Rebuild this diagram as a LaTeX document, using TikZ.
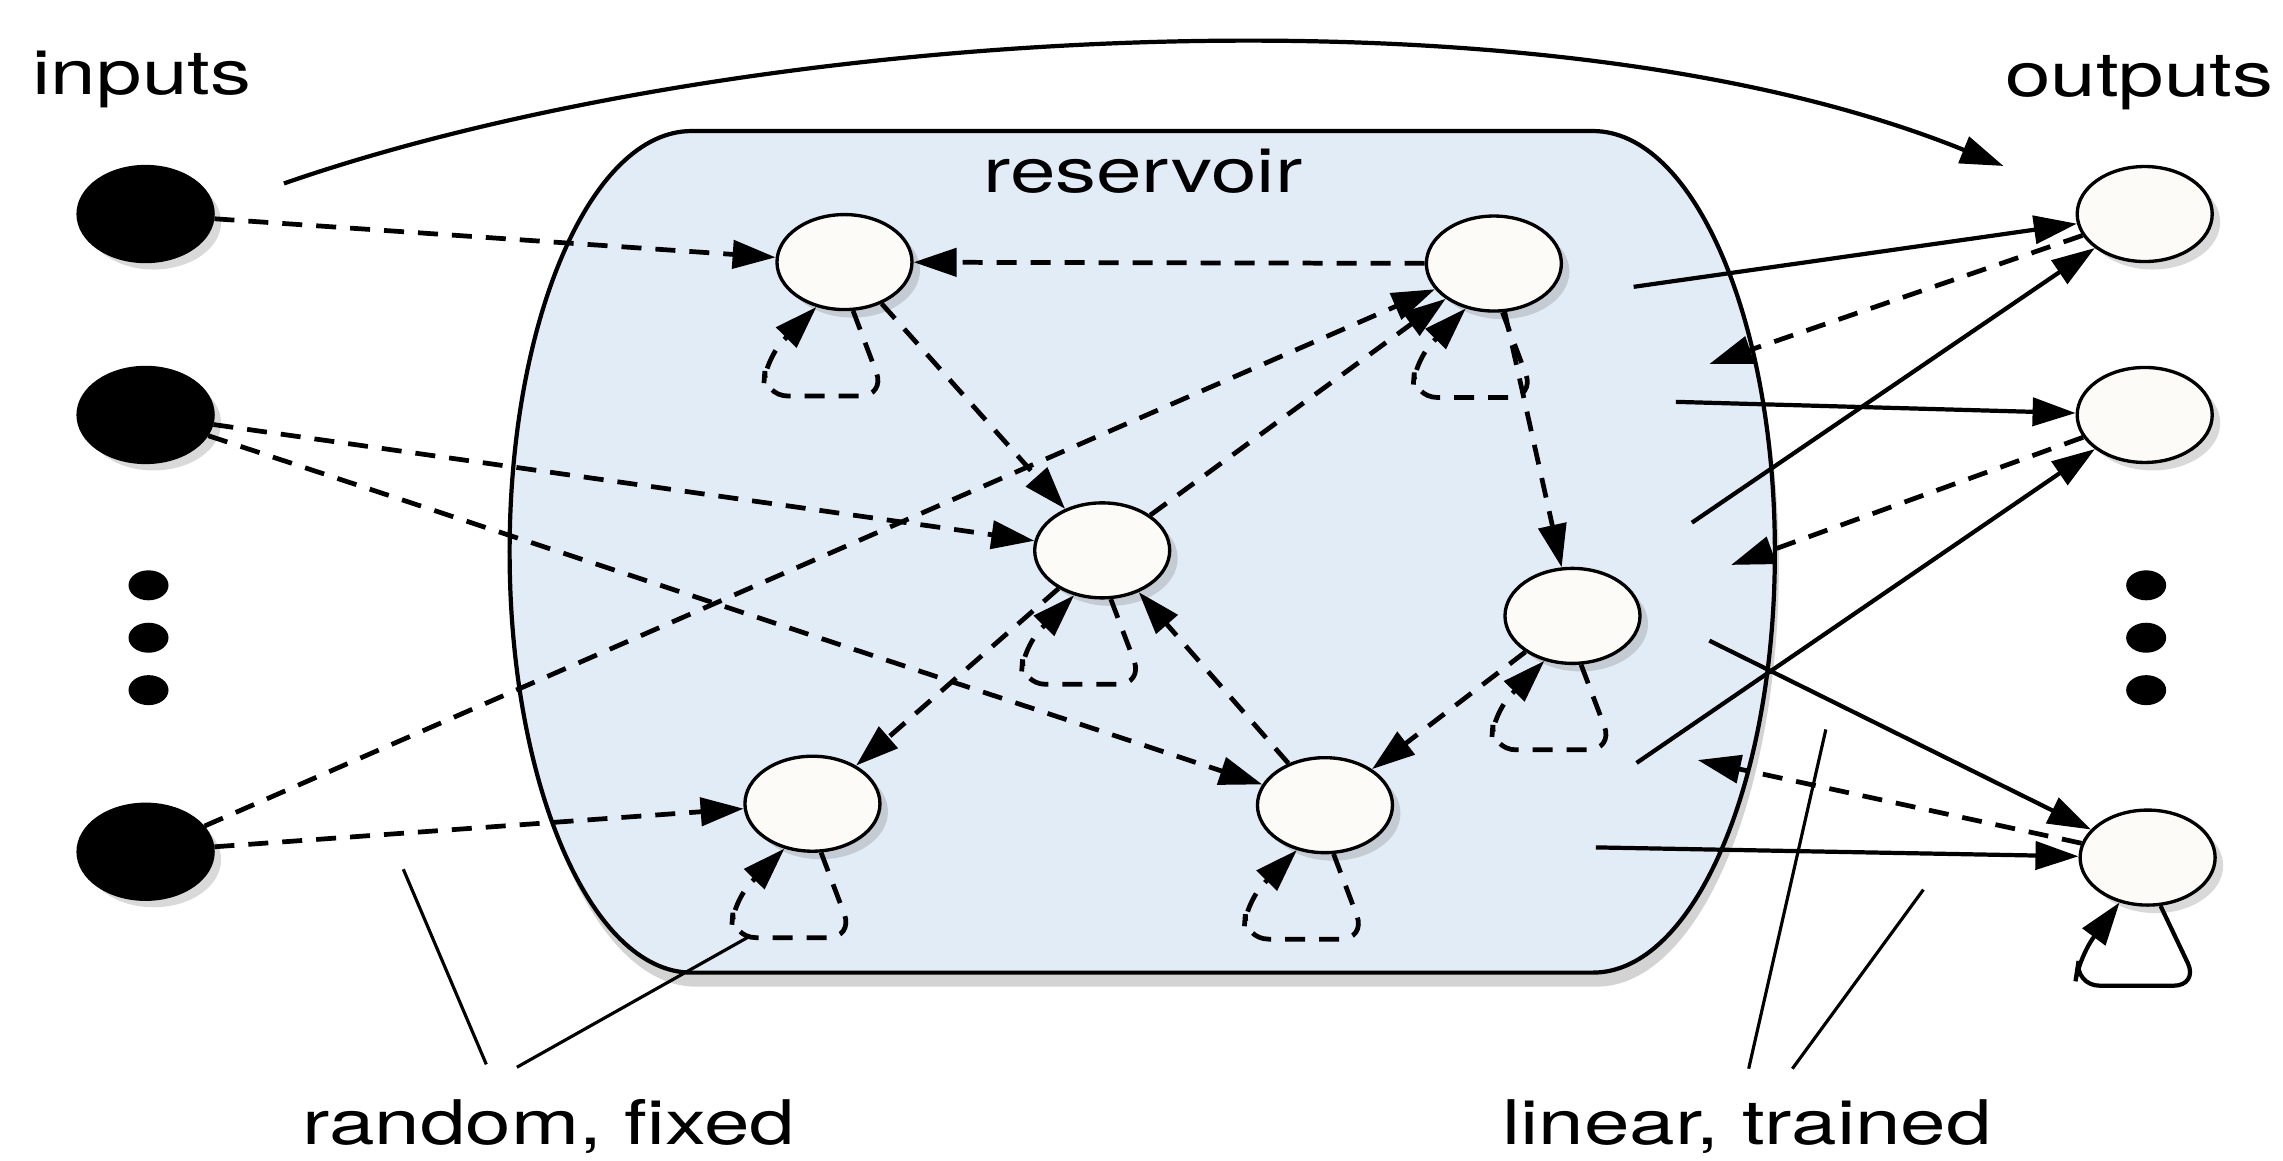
\documentclass[tikz,border=0pt]{standalone}
\usepackage{fontspec}
\newfontfamily\lblfont[FakeStretch=1.33]{TeX Gyre Heros}
\usetikzlibrary{arrows.meta,shapes.geometric,shadows}
\definecolor{resfill}{RGB}{226,236,247}
\definecolor{nodefill}{RGB}{253,251,248}
\begin{document}
\begin{tikzpicture}[x=0.1456mm, y=-0.1456mm,
  >={Triangle[length=4.3mm,width=2.8mm]},
  unit/.style={ellipse, draw=black, line width=0.95pt, fill=nodefill,
    minimum width=13.5mm, minimum height=9.5mm, inner sep=0pt,
    drop shadow={opacity=0.3, shadow xshift=0.8mm, shadow yshift=-0.8mm}},
  inunit/.style={unit, fill=black},
  dotnode/.style={ellipse, fill=black, minimum width=4mm, minimum height=3mm, inner sep=0pt},
  wdash/.style={line width=1.35pt, dash pattern=on 2mm off 1.4mm, ->},
  wsolid/.style={line width=1.2pt, ->},
  loopdash/.style={wdash, rounded corners=2.5mm},
  loopsolid/.style={wsolid, rounded corners=2.5mm},
  lbl/.style={font=\lblfont\fontsize{17.5}{20}\selectfont, inner sep=0pt},
  pointer/.style={line width=0.9pt},
]
\useasboundingbox (0,0) rectangle (1568,797);

% reservoir
\draw[line width=1.2pt, fill=resfill,
  drop shadow={opacity=0.35, shadow xshift=0.4mm, shadow yshift=-1.4mm}]
  (475,90) -- (1094,90) arc[start angle=-90, end angle=90, x radius=125, y radius=289]
  -- (475,668) arc[start angle=90, end angle=270, x radius=125, y radius=289] -- cycle;

% texts
\node[lbl, anchor=base west] (tin) at (22,65) {inputs};
\node[lbl, anchor=base east] (tout) at (1562,66) {outputs};
\node[lbl, anchor=base] (tres) at (785,132) {reservoir};
\node[lbl, anchor=base] (trand) at (377,786) {random, fixed};
\node[lbl, anchor=base] (tlin) at (1200,786) {linear, trained};

% input nodes
\node[inunit] (I1) at (100,147) {};
\node[inunit] (I2) at (100,285) {};
\node[inunit] (I3) at (100,585) {};
\node[dotnode] (D1) at (102,402) {};
\node[dotnode] (D2) at (102,438) {};
\node[dotnode] (D3) at (102,474) {};

% reservoir nodes
\node[unit] (R1) at (580,180) {};
\node[unit] (R2) at (1026,181) {};
\node[unit] (R3) at (757,378) {};
\node[unit] (R4) at (1080,423) {};
\node[unit] (R5) at (558,552) {};
\node[unit] (R6) at (910,553) {};

% output nodes
\node[unit] (O1) at (1473,147) {};
\node[unit] (O2) at (1473,285) {};
\node[unit] (O3) at (1475,589) {};
\node[dotnode] (E1) at (1474,402) {};
\node[dotnode] (E2) at (1474,438) {};
\node[dotnode] (E3) at (1474,474) {};

% input weights
\draw[wdash] (I1) -- (R1);
\draw[wdash] (I2) -- (R3);
\draw[wdash] (I2) -- (R6);
\draw[wdash] (I3) -- (R2);
\draw[wdash] (I3) -- (R5);

% reservoir connections
\draw[wdash] (R2) -- (R1);
\draw[wdash] (R1) -- (R3);
\draw[wdash] (R3) -- (R2);
\draw[wdash] (R3) -- (R5);
\draw[wdash] (R6) -- (R3);
\draw[wdash] (R4) -- (R6);
\draw[wdash] (R2) -- (R4);

% self loops
\foreach \n in {R1,R2,R3,R4,R5,R6}{
  \draw[loopdash] (\n.-80) -- ([shift={(28,92)}]\n.center) -- ([shift={(-56,92)}]\n.center)
    -- ([shift={(-54,66)}]\n.center) -- (\n.-122);
}
\draw[loopsolid] (O3.-75) -- ([shift={(35,88)}]O3.center) -- ([shift={(-50,88)}]O3.center)
  -- ([shift={(-47,68)}]O3.center) -- (O3.-122);

% output feedback
\coordinate (f1) at (1174,250);
\coordinate (f2) at (1189,388);
\coordinate (f3) at (1166,522);
\draw[wdash] (O1) -- (f1);
\draw[wdash] (O2) -- (f2);
\draw[wdash] (O3) -- (f3);

% output weights
\coordinate (s1) at (1122,197);
\coordinate (s2) at (1151,276);
\coordinate (s3) at (1162,359);
\coordinate (s4) at (1124,524);
\coordinate (s5) at (1174,440);
\coordinate (s6) at (1096,582);
\draw[wsolid] (s1) -- (O1);
\draw[wsolid] (s2) -- (O2);
\draw[wsolid] (s3) -- (O1);
\draw[wsolid] (s4) -- (O2);
\draw[wsolid] (s5) -- (O3);
\draw[wsolid] (s6) -- (O3);

% direct input-output
\coordinate (c0) at (195,126);
\coordinate (c1) at (1376,114);
\draw[wsolid] (c0) .. controls (500,20) and (1050,-18) .. (c1);

% label pointers
\coordinate (p1a) at (277,597); \coordinate (p1b) at (334,731);
\coordinate (p2a) at (355,733); \coordinate (p2b) at (515,643);
\coordinate (p3a) at (1254,501); \coordinate (p3b) at (1201,734);
\coordinate (p4a) at (1321,611); \coordinate (p4b) at (1231,734);
\draw[pointer] (p1a) -- (p1b);
\draw[pointer] (p2a) -- (p2b);
\draw[pointer] (p3a) -- (p3b);
\draw[pointer] (p4a) -- (p4b);
\end{tikzpicture}
\end{document}
